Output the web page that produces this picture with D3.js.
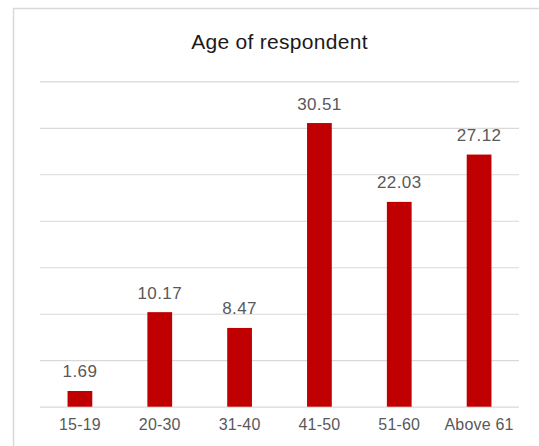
<!DOCTYPE html>
<html>
<head>
<meta charset="utf-8">
<script src="https://cdn.jsdelivr.net/npm/d3@7"></script>
<style>
  html, body { margin: 0; padding: 0; background: #fff; }
  svg { display: block; }
</style>
</head>
<body>
<svg id="chart" width="539" height="446"></svg>
<script>
const categories = ["15-19", "20-30", "31-40", "41-50", "51-60", "Above 61"];
const values = [1.69, 10.17, 8.47, 30.51, 22.03, 27.12];
const valueLabels = ["1.69", "10.17", "8.47", "30.51", "22.03", "27.12"];
const gridTicks = [0, 5, 10, 15, 20, 25, 30, 35];
const title = "Age of respondent";

(function () {
const W = 539, H = 446;
const svg = d3.select("#chart");
const pLeft = 40, pRight = 519, pTop = 81.3, pBottom = 406.7;

// outer frame (cropped on the right and bottom)
svg.append("rect")
  .attr("x", 13.5).attr("y", 8.5)
  .attr("width", W + 20).attr("height", H + 20)
  .attr("fill", "#fff")
  .attr("stroke", "#d9d9d9")
  .attr("stroke-width", 1.5);

const x = d3.scaleBand().domain(categories).range([pLeft, pRight]).paddingInner(0.69).paddingOuter(0.345);
const y = d3.scaleLinear().domain([0, 35]).range([pBottom, pTop]);

// gridlines via axis
const gridAxis = d3.axisLeft(y).tickValues(gridTicks).tickSize(-(pRight - pLeft)).tickFormat("");
const g = svg.append("g").attr("transform", `translate(${pLeft},0)`).call(gridAxis);
g.select(".domain").remove();
g.selectAll(".tick line").attr("stroke", "#d9d9d9").attr("stroke-width", 1.2);

// bars
svg.append("g").selectAll("rect")
  .data(values)
  .join("rect")
  .attr("x", (d, i) => x(categories[i]))
  .attr("y", d => y(d))
  .attr("width", x.bandwidth())
  .attr("height", d => y(0) - y(d))
  .attr("fill", "#c00000");

// value labels
svg.append("g").selectAll("text")
  .data(values)
  .join("text")
  .attr("x", (d, i) => x(categories[i]) + x.bandwidth() / 2)
  .attr("y", d => y(d) - 13.5)
  .attr("text-anchor", "middle")
  .attr("font-family", "Liberation Sans, Arial, sans-serif")
  .attr("font-size", 17)
  .attr("letter-spacing", 0.4)
  .attr("fill", "#595959")
  .text((d, i) => valueLabels[i]);

// category axis labels
const xAxis = d3.axisBottom(x).tickSize(0).tickPadding(0);
const xa = svg.append("g").attr("transform", `translate(0,${pBottom})`).call(xAxis);
xa.select(".domain").remove();
xa.selectAll("text")
  .attr("dy", null)
  .attr("y", 23.5)
  .attr("font-family", "Liberation Sans, Arial, sans-serif")
  .attr("font-size", 16)
  .attr("letter-spacing", 0.2)
  .attr("fill", "#595959");

// title
svg.append("text")
  .attr("x", (pLeft + pRight) / 2)
  .attr("y", 48.5)
  .attr("text-anchor", "middle")
  .attr("font-family", "Liberation Sans, Arial, sans-serif")
  .attr("font-size", 21)
  .attr("letter-spacing", 0.3)
  .attr("fill", "#1a1a1a")
  .text(title);
})();
</script>
</body>
</html>
